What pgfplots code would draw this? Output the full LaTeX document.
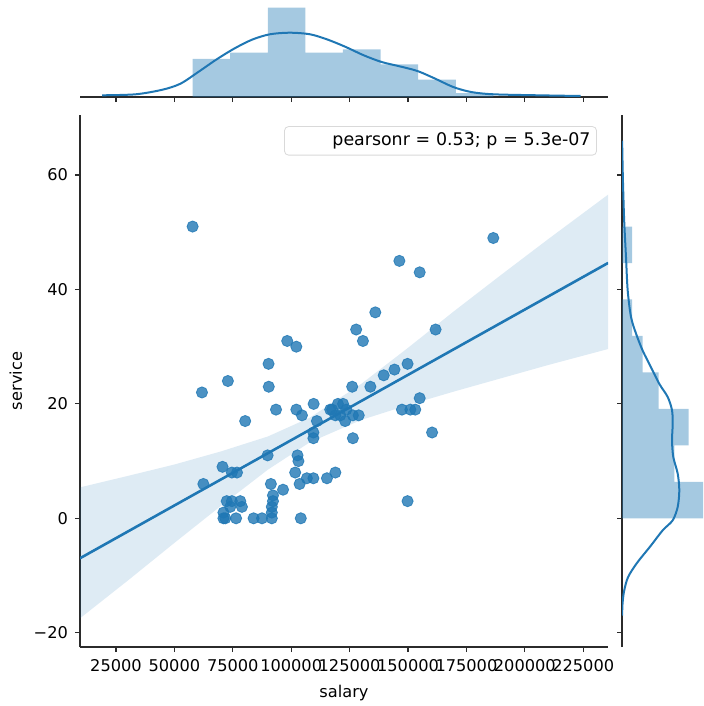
\documentclass[border=0pt]{standalone}
\usepackage{fontspec}
\setmainfont{DejaVu Sans}
\usepackage{pgfplots}
\pgfplotsset{compat=1.18}
\definecolor{c0}{HTML}{1F77B4}
\definecolor{spinec}{HTML}{2B2B2B}

\pgfplotstableread{
salary service
57800 51
186500 49
146300 45
155000 43
136000 36
98300 31
102200 30
127800 33
130700 31
161800 33
90300 27
72900 24
61800 22
90400 23
149800 27
144200 26
139600 25
133900 23
126100 23
155000 21
147400 19
151000 19
153100 19
160300 15
149800 3
93500 19
102200 19
109600 20
104600 18
80300 17
116700 19
111000 17
120000 20
122200 20
117500 19
118900 18
123600 19
126400 18
128900 18
121000 18
123100 17
126400 14
109500 15
109500 14
115300 7
118900 8
62400 6
70600 9
74600 8
76800 8
89900 11
102700 11
103100 10
101700 8
91300 6
96500 5
103600 6
106700 7
109500 7
92200 4
92200 3
91700 2
91700 1
91700 0
87500 0
83900 0
104100 0
72400 3
74600 3
78200 3
73900 2
71000 1
78900 2
71800 0
71000 0
76400 0
}\scatterdata

\pgfplotsset{
  jp/.style={
    scale only axis,
    tick align=outside,
    major tick length=2.5pt,
    every tick/.style={spinec, line width=0.6pt},
    axis line style={spinec, line width=0.7pt},
    tick label style={font=\fontsize{8.1}{9.5}\selectfont},
    label style={font=\fontsize{8.1}{9.5}\selectfont},
    /pgf/number format/assume math mode=true,
    scaled x ticks=false, scaled y ticks=false,
  }
}

\begin{document}
\begin{tikzpicture}[x=1pt,y=1pt]
\useasboundingbox (0,0) rectangle (351.5,-353);

% main joint axis
\begin{axis}[jp,
  at={(40pt,-323.5pt)}, anchor=south west,
  width=264pt, height=266pt,
  xmin=9600, xmax=235600, ymin=-22.5, ymax=70.5,
  axis x line*=bottom, axis y line*=left,
  xtick={25000,50000,75000,100000,125000,150000,175000,200000,225000},
  xticklabels={25000,50000,75000,100000,125000,150000,175000,200000,225000},
  ytick={-20,0,20,40,60},
  yticklabels={−20,0,20,40,60},
  xlabel={salary}, ylabel={service},
  xlabel style={yshift=0pt},
  ylabel style={yshift=-1pt},
]
% confidence band
\addplot[fill=c0, fill opacity=0.15, draw=none] coordinates {
(9540,5.4) (30000,7.4) (50000,9.4) (70000,11.7) (90000,14.3) (108000,17.6)
(130000,23.5) (150000,29.8) (170000,36.3) (190000,42.6) (210000,48.8) (235700,56.6)
(235700,29.6) (210000,26.8) (190000,24.5) (170000,22.2) (150000,19.8) (130000,17.2)
(108000,13.3) (90000,8.5) (70000,2.2) (50000,-4.3) (30000,-10.9) (9540,-17.5)
} -- cycle;
% scatter
\addplot[only marks, mark=*, mark size=2.8pt,
  mark options={draw=c0, fill=c0, opacity=0.8}] table[x=salary, y=service] {\scatterdata};
% regression line
\addplot[c0, line width=1.3pt] coordinates {(9540,-7.0) (235700,44.65)};
\node[draw=black!15, rounded corners=2pt, fill=white, fill opacity=0.8, text opacity=1,
  anchor=north east, minimum height=13.5pt, align=right, text width=150pt, inner sep=3pt,
  font=\fontsize{8.7}{10}\selectfont] at (rel axis cs:0.979,0.979) {pearsonr = 0.53; p = 5.3e-07};
\end{axis}

% top marginal
\begin{axis}[jp,
  at={(40pt,-48.5pt)}, anchor=south west,
  width=264pt, height=48.5pt,
  xmin=9600, xmax=235600, ymin=0, ymax=97,
  axis x line*=bottom, axis y line=none,
  xtick={25000,50000,75000,100000,125000,150000,175000,200000,225000},
  xticklabels={}, ytick=\empty,
]
\addplot[ybar interval, fill=c0, fill opacity=0.4, draw=none] coordinates {
(57800,38) (73890,44.4) (89980,89.4) (106070,44.4) (122160,47.7) (138250,32.7) (154340,17.4) (170430,4) (186520,4)
};
\addplot[c0, line width=1pt, smooth, tension=0.5] coordinates {
(19090,1.7) (33440,2.7) (44900,7.3) (52580,13.3) (60220,25) (67870,37.3) (75530,48.3)
(83210,57.3) (90850,62.7) (99480,64.3) (108090,62.7) (115720,57.3) (123370,50)
(131040,41.7) (138710,35) (146370,30.7) (154010,26) (161670,18.3) (169340,10)
(177000,5) (186560,2.7) (205700,1.7) (223870,1)
};
\end{axis}

% right marginal
\begin{axis}[jp,
  at={(311pt,-323.5pt)}, anchor=south west,
  width=40.5pt, height=266pt,
  xmin=0, xmax=81, ymin=-22.5, ymax=70.5,
  axis y line*=left, axis x line=none,
  ytick={-20,0,20,40,60}, yticklabels={}, xtick=\empty,
]
\addplot[xbar interval, fill=c0, fill opacity=0.4, draw=none] coordinates {
(95,0) (52.3,6.375) (66.7,12.75) (36.7,19.125) (20.7,25.5) (10,31.875) (0,38.25) (10,44.625) (10,51)
};
\addplot[c0, line width=1pt, smooth, tension=0.5] coordinates {
(0.1,66) (0.8,60) (1.6,55) (2.3,51.5) (4,45.6) (5.7,39.8) (9,35.2) (14,32.3) (20.7,29.3)
(29,26.4) (37.3,23.5) (45.7,21.2) (50,18.9) (50.7,16.5) (50,13.6) (51.3,10.7) (55.7,7.8)
(57.3,4.9) (55.7,2.0) (50.7,-0.35) (40.7,-2.1) (28.3,-4.9) (15,-7.8) (6,-10.3) (2,-12.8)
(0.5,-15) (0.1,-17)
};
\end{axis}
\end{tikzpicture}
\end{document}
